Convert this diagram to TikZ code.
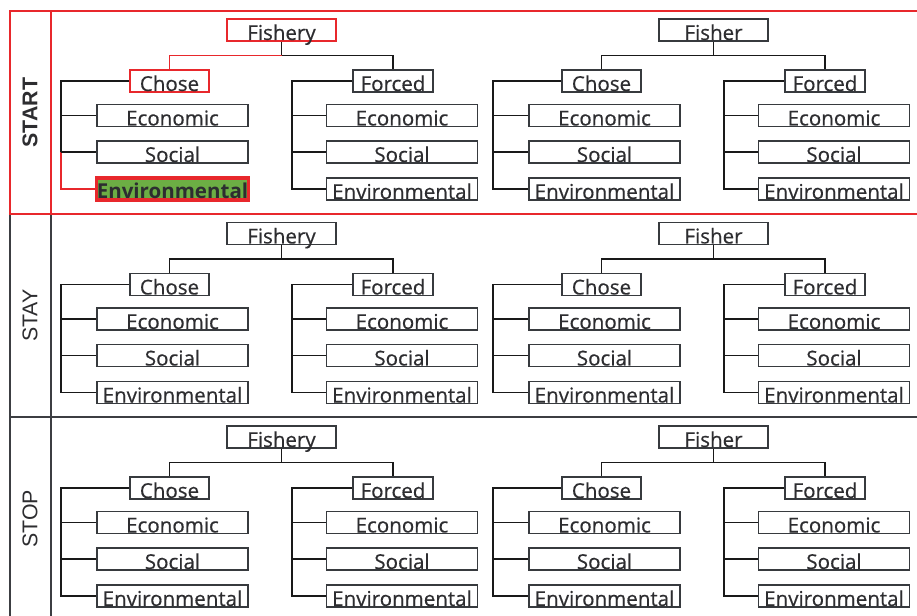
\documentclass[tikz,border=0pt]{standalone}
\usepackage{fontspec}
\setmainfont{Open Sans}
\newfontfamily\boxfont[FakeBold=0.5]{Open Sans}
\newfontfamily\labelfont{Liberation Sans}
\usetikzlibrary{calc}
\definecolor{hlred}{RGB}{232,40,44}
\definecolor{boxgray}{RGB}{55,58,62}
\definecolor{txt}{RGB}{45,45,48}
\definecolor{hlgreen}{RGB}{108,174,68}
\definecolor{framegray}{RGB}{60,62,66}
\tikzset{
  x=0.75pt, y=-0.75pt,
  box/.style={draw=boxgray, line width=1.25pt, rectangle, inner sep=0pt,
    text height=15.75pt, text depth=0.75pt, minimum height=16.5pt,
    text=txt, font=\boxfont\fontsize{15.4}{16}\selectfont},
  leaf/.style={box, minimum width=113.25pt},
  link/.style={draw=black!90, line width=1.35pt},
  rootbox/.style={}, chosebox/.style={}, envbox/.style={},
  linkC/.style={}, linkEnv/.style={},
  rowlabel/.style={rotate=90, text=txt, font=\labelfont\fontsize{16}{18}\selectfont, inner sep=0pt},
  frame/.style={draw=framegray, line width=1.2pt},
  hlframe/.style={draw=hlred, line width=1.2pt},
}
\newcommand\drawtree[4]{%
  \begin{scope}[shift={(#2,#3)}]
    \node[box, rootbox, minimum width=81.75pt] (#1r) at (281.5,30) {#4};
    \node[box, chosebox, minimum width=59.25pt] (#1c) at (169.5,81) {Chose};
    \node[box, minimum width=60pt] (#1f) at (393,81) {Forced};
    \node[leaf] (#1ce) at (172.5,115.5) {Economic};
    \node[leaf] (#1cs) at (172.5,152) {Social};
    \node[leaf, envbox] (#1cv) at (172.5,189) {Environmental};
    \node[leaf] (#1fe) at (402,115.5) {Economic};
    \node[leaf] (#1fs) at (402,152) {Social};
    \node[leaf] (#1fv) at (402,189) {Environmental};
    \coordinate (#1m) at (281.5,55.5);
    \coordinate (#1ca) at (61,81);
    \coordinate (#1fa) at (292,81);
    \draw[link] (#1r.south) -- (#1m) -| (#1f.north);
    \draw[link, linkC] (#1m) -| (#1c.north);
    \draw[link] (#1c.west) -- (#1ca) -- (#1cs.west -| #1ca);
    \draw[link, linkEnv] (#1cs.west -| #1ca) |- (#1cv.west);
    \draw[link] (#1ce.west -| #1ca) -- (#1ce.west);
    \draw[link] (#1cs.west -| #1ca) -- (#1cs.west);
    \draw[link] (#1f.west) -- (#1fa) |- (#1fv.west);
    \draw[link] (#1fe.west -| #1fa) -- (#1fe.west);
    \draw[link] (#1fs.west -| #1fa) -- (#1fs.west);
  \end{scope}}
\begin{document}
\begin{tikzpicture}
\path[use as bounding box, fill=white] (0,0) rectangle (917,616);
% frame
\coordinate (f1) at (10,214);
\coordinate (f2) at (10,616);
\coordinate (f3) at (51,214);
\coordinate (f4) at (51,616);
\coordinate (f5) at (10,417);
\coordinate (f6) at (917,417);
\draw[frame] (f1) -- (f2);
\draw[frame] (f3) -- (f4);
\draw[frame] (f5) -- (f6);
\coordinate (h1) at (917,11);
\coordinate (h2) at (10,11);
\coordinate (h3) at (10,214);
\coordinate (h4) at (917,214);
\coordinate (h5) at (51,11);
\coordinate (h6) at (51,214);
\draw[hlframe] (h1) -- (h2) -- (h3) -- (h4);
\draw[hlframe] (h5) -- (h6);
% row labels
\node[rowlabel, font=\labelfont\bfseries\fontsize{16}{18}\selectfont] (lstart) at (30,112.5) {START};
\node[rowlabel] (lstay) at (30,315.5) {STAY};
\node[rowlabel] (lstop) at (30,519) {STOP};
% trees
\begin{scope}[
  rootbox/.style={draw=hlred},
  chosebox/.style={draw=hlred},
  envbox/.style={draw=hlred, fill=hlgreen, line width=2.3pt, font=\bfseries\fontsize{15.4}{16}\selectfont},
  linkC/.style={draw=hlred},
  linkEnv/.style={draw=hlred}]
\drawtree{a}{0}{0}{Fishery}
\end{scope}
\drawtree{b}{432}{0}{Fisher}
\drawtree{c}{0}{203.5}{Fishery}
\drawtree{d}{432}{203.5}{Fisher}
\drawtree{e}{0}{407}{Fishery}
\drawtree{f}{432}{407}{Fisher}
\end{tikzpicture}
\end{document}
